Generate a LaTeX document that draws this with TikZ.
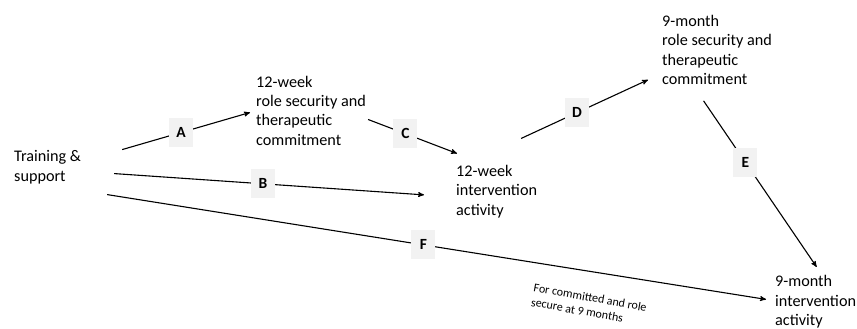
\documentclass[tikz,border=0pt]{standalone}
\usepackage{fontspec}
\setmainfont{Carlito}
\usetikzlibrary{arrows}
\tikzset{
	>=stealth',
	stage/.style={
		align=left,
		inner sep=0pt,
		anchor=base west,
		font=\fontsize{16.2}{19.3}\selectfont},
	line/.style={draw, line width=1.1pt, ->},
	tag/.style={
		fill=black!5,
		inner sep=0pt,
		minimum width=24pt,
		minimum height=29pt,
		font=\fontsize{15.5}{18}\selectfont\bfseries},
	remark/.style={
		align=left,
		inner sep=0pt,
		anchor=base west,
		rotate=-10,
		font=\fontsize{12}{14.6}\selectfont},
}
\begin{document}
\begin{tikzpicture}[x=1pt,y=-1pt]
		\useasboundingbox (0,0) rectangle (857,329);
		\node[stage] (train)  at (14,181)    {Training \&\\support};
		\node[stage] (role12) at (256,145)   {12-week\\role security and\\therapeutic\\commitment};
		\node[stage] (act12)  at (456,215)   {12-week\\intervention\\activity};
		\node[stage] (role9)  at (662,84.5)  {9-month\\role security and\\therapeutic\\commitment};
		\node[stage] (act9)   at (775,325.5) {9-month\\intervention\\activity};
		\draw[line] ([shift={(41,-17.5)}]train.east) -- node[tag, pos=.46] {A} ([shift={(-6,2)}]role12.west);
		\draw[line] ([shift={(33,6.5)}]train.east) -- node[tag, pos=.48] {B} ([shift={(-32,3.5)}]act12.west);
		\draw[line] ([shift={(2,9)}]role12.east) -- node[tag, pos=.42] {C} ([shift={(1,-11.5)}]act12.north west);
		\draw[line] ([shift={(24.5,-26.5)}]act12.north) -- node[tag, pos=.44] {D} ([shift={(-14,-5)}]role9.south west);
		\draw[line] ([shift={(-13.5,16)}]role9.south) -- node[tag, pos=.37] {E} ([shift={(1,-8.5)}]act9.north);
		\draw[line] ([shift={(26,27.5)}]train.east) -- node[tag, pos=.48] {F} ([shift={(-9,-2.5)}]act9.west);
		\node[remark] (note) at (530.5,306) {For committed and role\\secure at 9 months};
		\end{tikzpicture}
\end{document}
